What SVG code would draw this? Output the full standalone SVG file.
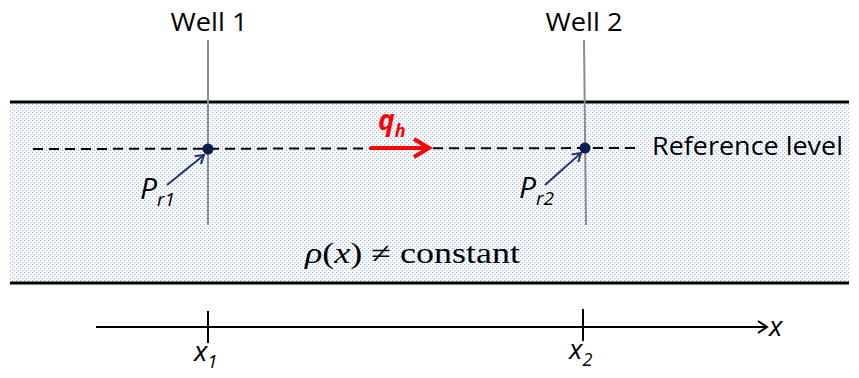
<svg xmlns="http://www.w3.org/2000/svg" width="859" height="378" viewBox="0 0 859 378">
<style>
.lbl{font-family:"Open Sans","Liberation Sans",sans-serif;fill:#000}
.it{font-style:italic}
.well{stroke:#8c8c8c;stroke-width:2}
.pt{fill:#0d1d4f}
.ptr{stroke:#1f3470;stroke-width:2;fill:none}
</style>
<defs>
<pattern id="dots" width="4" height="4" patternUnits="userSpaceOnUse">
<rect width="4" height="4" fill="#ffffff"/>
<rect x="0" y="0" width="1.2" height="1.2" fill="#9db5e6"/>
<rect x="2" y="2" width="1.2" height="1.2" fill="#9db5e6"/>
</pattern>
<marker id="navyHead" markerWidth="12" markerHeight="12" refX="10" refY="6" orient="auto" markerUnits="userSpaceOnUse">
<path d="M2,1 L10,6 L2,11" fill="none" stroke="#1f3470" stroke-width="2"/>
</marker>
<marker id="blackHead" markerWidth="14" markerHeight="14" refX="12" refY="7" orient="auto" markerUnits="userSpaceOnUse">
<path d="M3,1 L12,7 L3,13" fill="none" stroke="#000" stroke-width="2"/>
</marker>
</defs>
<g id="layer">
<rect x="10" y="102" width="839" height="181" fill="url(#dots)"/>
<line x1="10" y1="102" x2="849" y2="102" stroke="#000" stroke-width="3"/>
<line x1="10" y1="283" x2="849" y2="283" stroke="#000" stroke-width="3"/>
</g>
<g id="well1">
<line class="well" x1="208" y1="40" x2="208" y2="225"/>
<text class="lbl" x="209" y="31" font-size="26" text-anchor="middle" textLength="77" lengthAdjust="spacingAndGlyphs">Well 1</text>
</g>
<g id="well2">
<line class="well" x1="584" y1="40" x2="586" y2="225"/>
<text class="lbl" x="584" y="31" font-size="26" text-anchor="middle" textLength="77" lengthAdjust="spacingAndGlyphs">Well 2</text>
</g>
<g id="connectors">
<line x1="33" y1="149" x2="640" y2="148" stroke="#000" stroke-width="2" stroke-dasharray="10,6"/>
<line class="ptr" x1="167" y1="185" x2="204" y2="155" marker-end="url(#navyHead)"/>
<line class="ptr" x1="545" y1="185" x2="581" y2="153" marker-end="url(#navyHead)"/>
<g id="flow">
<line x1="370" y1="148" x2="428" y2="148" stroke="#ff0000" stroke-width="4"/>
<path d="M414,139 L429,148 L414,157" fill="none" stroke="#ff0000" stroke-width="4"/>
</g>
<line x1="96" y1="327" x2="767" y2="327" stroke="#000" stroke-width="1.8" marker-end="url(#blackHead)"/>
<line x1="208" y1="311" x2="208" y2="343" stroke="#000" stroke-width="2"/>
<line x1="583" y1="309" x2="583" y2="341" stroke="#000" stroke-width="2"/>
</g>
<g id="point1">
<circle class="pt" cx="208" cy="149" r="5.5"/>
<text class="lbl it" x="140" y="199" font-size="30">P<tspan font-size="19" dy="7">r1</tspan></text>
</g>
<g id="point2">
<circle class="pt" cx="585" cy="148" r="5.5"/>
<text class="lbl it" x="519" y="198" font-size="30">P<tspan font-size="19" dy="7">r2</tspan></text>
</g>
<g id="qh">
<text class="lbl it" x="378" y="130" font-size="28" font-weight="bold" style="fill:#ff0000">q<tspan font-size="18" dy="7">h</tspan></text>
</g>
<g id="reflevel">
<text class="lbl" x="652" y="155" font-size="26" textLength="191" lengthAdjust="spacingAndGlyphs">Reference level</text>
</g>
<g id="density">
<text x="305" y="263" font-family="'Liberation Serif',serif" font-size="29" fill="#000" textLength="215" lengthAdjust="spacingAndGlyphs"><tspan font-style="italic">ρ</tspan>(<tspan font-style="italic">x</tspan>) ≠ constant</text>
</g>
<g id="axislabels">
<text class="lbl it" x="769" y="336" font-size="28">x</text>
<text class="lbl it" x="194" y="361" font-size="28">x<tspan font-size="18" dy="7">1</tspan></text>
<text class="lbl it" x="569" y="359" font-size="28">x<tspan font-size="18" dy="7">2</tspan></text>
</g>
</svg>
